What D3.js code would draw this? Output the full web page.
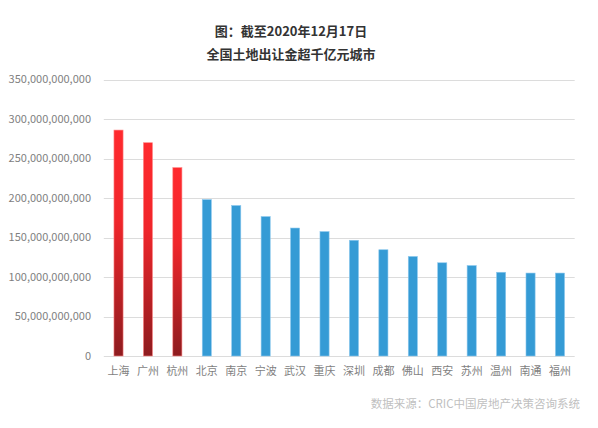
<!DOCTYPE html>
<html><head><meta charset="utf-8">
<script src="https://cdn.jsdelivr.net/npm/d3@7"></script>
<style>body{margin:0;background:#fff}svg{display:block}</style>
</head><body>
<svg id="c" width="598" height="428"></svg>
<script>
const cities = ["上海","广州","杭州","北京","南京","宁波","武汉","重庆","深圳","成都","佛山","西安","苏州","温州","南通","福州"];
const values = [286e9,270e9,238.5e9,198e9,190.5e9,176.5e9,162e9,157.5e9,146.5e9,134.5e9,126e9,118e9,114.5e9,106e9,105e9,105e9];
const highlighted = ["上海","广州","杭州"];
const yTicks = [0,50e9,100e9,150e9,200e9,250e9,300e9,350e9];
const titleLines = ["图：截至2020年12月17日","全国土地出让金超千亿元城市"];
const sourceText = "数据来源：CRIC中国房地产决策咨询系统";

const svg = d3.select("#c");
const font = "'Microsoft YaHei','Noto Sans CJK SC',sans-serif";
const L = 103.8, R = 574.7, T = 79.5, B = 356;
const x = d3.scaleBand().domain(cities).range([L,R]).paddingInner(0.69).paddingOuter(0.345);
const y = d3.scaleLinear().domain([0,350e9]).range([B,T]);

const defs = svg.append("defs");
const g = defs.append("linearGradient").attr("id","red").attr("x1",0).attr("y1",0).attr("x2",0).attr("y2",1);
g.append("stop").attr("offset","0%").attr("stop-color","#ff2a2e");
g.append("stop").attr("offset","40%").attr("stop-color","#f0262b");
g.append("stop").attr("offset","100%").attr("stop-color","#8e1c1f");

// grid
svg.append("g").selectAll("line").data(yTicks).join("line")
  .attr("x1",L).attr("x2",R).attr("y1",d=>Math.round(y(d))+0.5).attr("y2",d=>Math.round(y(d))+0.5)
  .attr("stroke","#dcdcdc").attr("stroke-width",1);

// y labels
const fmt = d3.format(",");
svg.append("g").selectAll("text").data(yTicks).join("text")
  .attr("x",91).attr("y",d=>y(d)).attr("dy","0.35em").attr("text-anchor","end")
  .attr("font-family",font).attr("font-size",11).attr("fill","#7f7f7f").text(d=>fmt(d));

// bars
svg.append("g").selectAll("rect").data(cities).join("rect")
  .attr("x",d=>x(d)).attr("width",x.bandwidth())
  .attr("y",(d,i)=>y(values[i])).attr("height",(d,i)=>B-y(values[i]))
  .attr("fill",d=>highlighted.includes(d)?"url(#red)":"#359bd5")
  .attr("stroke",d=>highlighted.includes(d)?"#ff8a8a":"#8cc8ee").attr("stroke-width",0.6);

// x labels
svg.append("g").selectAll("text").data(cities).join("text")
  .attr("x",d=>x(d)+x.bandwidth()/2).attr("y",375).attr("text-anchor","middle")
  .attr("font-family",font).attr("font-size",11).attr("fill","#7f7f7f").text(d=>d);

// title
svg.append("g").selectAll("text").data(titleLines).join("text")
  .attr("x",291).attr("y",(d,i)=>36+i*23).attr("text-anchor","middle")
  .attr("font-family",font).attr("font-size",13).attr("font-weight","bold").attr("fill","#333")
  .text(d=>d);

svg.append("text").attr("x",580).attr("y",408).attr("text-anchor","end")
  .attr("font-family",font).attr("font-size",11.5).attr("fill","#bfbfbf").text(sourceText);
</script>
</body></html>
